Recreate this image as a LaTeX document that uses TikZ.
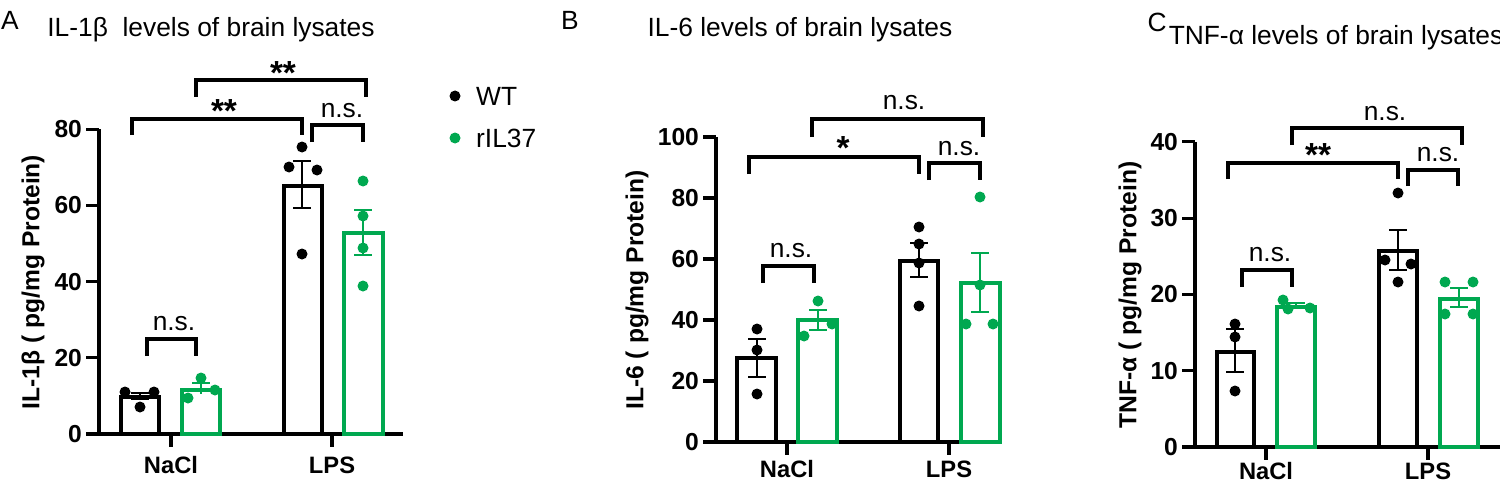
\documentclass[tikz,border=0pt]{standalone}
\usepackage{fontspec}
\setmainfont{Liberation Sans}
\definecolor{rgreen}{RGB}{0,168,80}
\tikzset{
  axis/.style={line width=1.8pt},
  wtbar/.style={line width=2.7pt,draw=black},
  ilbar/.style={line width=2.7pt,draw=rgreen},
  errbar/.style={line width=1pt},
  brack/.style={line width=2.5pt},
  wtdot/.style={fill=black},
  ildot/.style={fill=rgreen},
  ticklab/.style={font=\fontsize{14}{16}\selectfont\bfseries,anchor=east,inner sep=1pt},
  catlab/.style={font=\fontsize{13.5}{15}\selectfont\bfseries},
  ylab/.style={font=\fontsize{14}{16}\selectfont\bfseries,rotate=90},
  title/.style={font=\fontsize{15}{17}\selectfont},
  sig/.style={font=\fontsize{15}{17}\selectfont},
  star/.style={font=\fontsize{19}{19}\selectfont\bfseries},
  panel/.style={font=\fontsize{15}{17}\selectfont}
}
\newcommand{\bracket}[4]{\draw[brack] (#1,#4) -- (#1,#3) -- (#2,#3) -- (#2,#4);}
\newcommand{\errb}[3]{\draw[errbar] (#1,#2) -- (#1,#3) (#1-9,#2) -- (#1+9,#2) (#1-9,#3) -- (#1+9,#3);}
\begin{document}
\begin{tikzpicture}[x=0.02cm,y=-0.02cm]
\useasboundingbox (0,0) rectangle (1500,483);

% panel A
\node[panel] (pA) at (10,20) {A};
\node[title] (tA) at (211,30) {IL-1β\ \ levels of brain lysates};
\draw[axis] (99,129) -- (99,434) -- (403,434);
\foreach \v in {0,20,...,80} {
  \draw[axis] (86,434-3.81*\v) -- (99,434-3.81*\v);
  \node[ticklab] at (84,434-3.81*\v) {\v};
}
\draw[axis] (171,434) -- (171,447) (332,434) -- (332,447);
\node[catlab] (nA) at (171,465) {NaCl};
\node[catlab] (lA) at (332,465) {LPS};
\node[ylab] (yA) at (33,282) {IL-1β ( pg/mg Protein)};
\draw[wtbar] (121,434) rectangle (159,397);
\draw[ilbar] (182,434) rectangle (220,390);
\draw[wtbar] (284,434) rectangle (322,186);
\draw[ilbar] (344,434) rectangle (383,233);
\errb{140}{393}{399}
\draw[errbar,rgreen] (201,383) -- (201,394) (192,383) -- (210,383);
\errb{302}{161}{208}
\draw[errbar,rgreen] (363,210) -- (363,255) (354,210) -- (372,210) (354,255) -- (372,255);
\foreach \p in {(125,392),(140,407),(154,392),(302,147),(289,167),(317,170),(302,254)}
  \fill[wtdot] \p circle (5.5);
\foreach \p in {(201,378),(188,398),(215,390),(363,181),(363,216),(363,248),(363,286)}
  \fill[ildot] \p circle (5.5);
\bracket{196}{366}{80}{97}
\node[star] at (283,73) {**};
\bracket{132}{302}{119}{135}
\node[star] at (224,111) {**};
\bracket{312}{363}{125}{142}
\node[sig] at (342,111) {n.s.};
\bracket{147}{196}{339}{356}
\node[sig] at (174,324) {n.s.};
% legend
\fill[wtdot] (455,96) circle (5.5);
\node[sig,anchor=west] (lgWT) at (470,96) {WT};
\fill[ildot] (455,138) circle (5.5);
\node[sig,anchor=west] (lgIL) at (470,138) {rIL37};

% panel B
\node[panel] (pB) at (570,20) {B};
\node[title] (tB) at (800,30) {IL-6 levels of brain lysates};
\draw[axis] (716,137) -- (716,442) -- (1000,442);
\foreach \v in {0,20,...,100} {
  \draw[axis] (703,442-3.05*\v) -- (716,442-3.05*\v);
  \node[ticklab] at (701,442-3.05*\v) {\v};
}
\draw[axis] (787,442) -- (787,455) (949,442) -- (949,455);
\node[catlab] (nB) at (787,469) {NaCl};
\node[catlab] (lB) at (949,469) {LPS};
\node[ylab] (yB) at (637,290) {IL-6 ( pg/mg Protein)};
\draw[wtbar] (737,442) rectangle (776,358);
\draw[ilbar] (798,442) rectangle (837,320);
\draw[wtbar] (900,442) rectangle (938,261);
\draw[ilbar] (961,442) rectangle (1000,283);
\errb{757}{339}{377}
\draw[errbar,rgreen] (818,310) -- (818,330) (809,310) -- (827,310) (809,330) -- (827,330);
\errb{919}{243}{277}
\draw[errbar,rgreen] (980,253) -- (980,312) (971,253) -- (989,253) (971,312) -- (989,312);
\foreach \p in {(757,329),(757,350),(757,394),(919,227),(919,244),(919,263),(919,306)}
  \fill[wtdot] \p circle (5.5);
\foreach \p in {(818,301),(804,336),(832,324),(980,197),(980,285),(966,324),(993,324)}
  \fill[ildot] \p circle (5.5);
\bracket{812}{983}{119}{137}
\node[sig] at (904,103) {n.s.};
\bracket{749}{919}{157}{174}
\node[star] at (843,148) {*};
\bracket{929}{980}{163}{180}
\node[sig] at (959,149) {n.s.};
\bracket{763}{814}{266}{283}
\node[sig] at (791,251) {n.s.};

% panel C
\node[panel] (pC) at (1157,22) {C};
\node[title] (tC) at (1336,38) {TNF-α levels of brain lysates};
\draw[axis] (1195,142) -- (1195,447) -- (1500,447);
\foreach \v in {0,10,...,40} {
  \draw[axis] (1182,447-7.63*\v) -- (1195,447-7.63*\v);
  \node[ticklab] at (1180,447-7.63*\v) {\v};
}
\draw[axis] (1266,447) -- (1266,460) (1428,447) -- (1428,460);
\node[catlab] (nC) at (1266,471) {NaCl};
\node[catlab] (lC) at (1428,471) {LPS};
\node[ylab] (yC) at (1130,295) {TNF-α ( pg/mg Protein)};
\draw[wtbar] (1217,447) rectangle (1254,352);
\draw[ilbar] (1277,447) rectangle (1315,307);
\draw[wtbar] (1379,447) rectangle (1417,251);
\draw[ilbar] (1440,447) rectangle (1478,299);
\errb{1235}{329}{372}
\draw[errbar,rgreen] (1296,303) -- (1296,307) (1287,303) -- (1305,303);
\errb{1398}{230}{270}
\draw[errbar,rgreen] (1459,288) -- (1459,307) (1450,288) -- (1468,288) (1450,307) -- (1468,307);
\foreach \p in {(1235,324),(1235,337),(1235,391),(1398,193),(1385,260),(1411,264),(1398,282)}
  \fill[wtdot] \p circle (5.5);
\foreach \p in {(1283,300),(1288,309),(1310,308),(1445,282),(1473,282),(1445,314),(1473,314)}
  \fill[ildot] \p circle (5.5);
\bracket{1292}{1462}{128}{145}
\node[sig] at (1385,114) {n.s.};
\bracket{1228}{1398}{163}{179}
\node[star] at (1318,155) {**};
\bracket{1408}{1458}{170}{186}
\node[sig] at (1438,155) {n.s.};
\bracket{1242}{1292}{270}{287}
\node[sig] at (1270,255) {n.s.};
\end{tikzpicture}
\end{document}
